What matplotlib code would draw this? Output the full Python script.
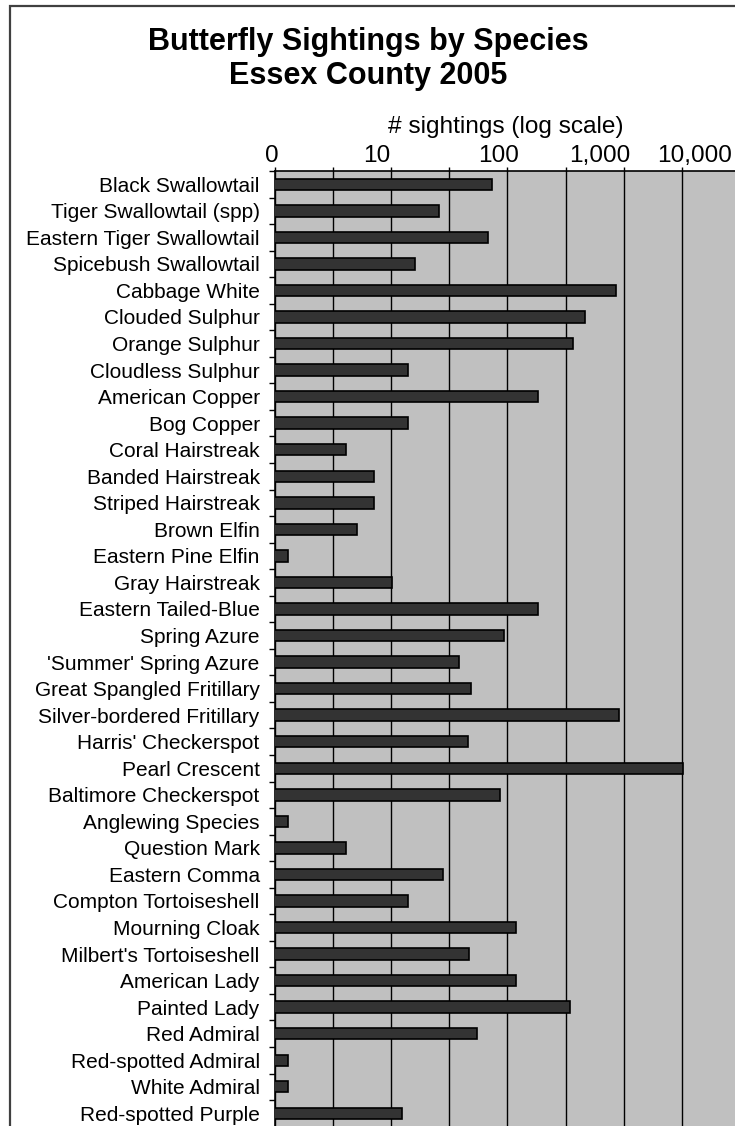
import numpy as np
import matplotlib
matplotlib.use("Agg")
import matplotlib.pyplot as plt
from matplotlib.patches import Rectangle

plt.rcParams['font.family'] = ['Liberation Sans', 'DejaVu Sans']

# species, top to bottom
species = [
    "Black Swallowtail", "Tiger Swallowtail (spp)", "Eastern Tiger Swallowtail",
    "Spicebush Swallowtail", "Cabbage White", "Clouded Sulphur", "Orange Sulphur",
    "Cloudless Sulphur", "American Copper", "Bog Copper", "Coral Hairstreak",
    "Banded Hairstreak", "Striped Hairstreak", "Brown Elfin", "Eastern Pine Elfin",
    "Gray Hairstreak", "Eastern Tailed-Blue", "Spring Azure", "'Summer' Spring Azure",
    "Great Spangled Fritillary", "Silver-bordered Fritillary", "Harris' Checkerspot",
    "Pearl Crescent", "Baltimore Checkerspot", "Anglewing Species", "Question Mark",
    "Eastern Comma", "Compton Tortoiseshell", "Mourning Cloak", "Milbert's Tortoiseshell",
    "American Lady", "Painted Lady", "Red Admiral", "Red-spotted Admiral",
    "White Admiral", "Red-spotted Purple",
]
# sightings
sightings = [
    73, 26, 68, 16, 860, 470, 370, 14, 182, 14, 4.1, 7.1,
    7.1, 5.1, 1.3, 10.2, 182, 93, 38.5, 49, 920, 45.5,
    3270, 86, 1.3, 4.1, 28, 14, 118, 47, 118, 344, 55, 1.3,
    1.3, 12.4,
]
tick_text = ["0", "10", "100", "1,000", "10,000"]
tick_frac = [-0.007, 0.219, 0.480, 0.699, 0.902]

W, H = 735, 1126
fig = plt.figure(figsize=(W / 100, H / 100), dpi=100)

# outer chart border (right and bottom are cut off in the original)
fig.patches.append(Rectangle((10 / W, -0.05), 1.2, 1 - 5.5 / H + 0.05,
                             transform=fig.transFigure, fill=False,
                             edgecolor="#404040", linewidth=1.6))

left, top = 275, 171
ax = fig.add_axes([left / W, 1 - 1126.6 / H, 464.8 / W, (1126.6 - top) / H])
ax.set_facecolor("#c0c0c0")

y = np.arange(len(species))
ax.barh(y, sightings, height=0.43, color="#333333", edgecolor="black", linewidth=1.2, zorder=3)

ax.set_xscale("log")
ax.set_xlim(1, 1e4)
ax.set_ylim(len(species) - 0.5, -0.5)

ax.set_xticks(10 ** np.arange(0, 4.01, 0.5))
ax.set_xticks([], minor=True)
ax.xaxis.set_major_formatter(plt.NullFormatter())
ax.xaxis.set_minor_formatter(plt.NullFormatter())
ax.xaxis.tick_top()
ax.tick_params(axis="x", which="major", direction="out", length=3, width=1, color="black")
ax.grid(axis="x", which="major", color="black", linewidth=1, zorder=1)
ax.set_axisbelow(True)

ax.set_yticks(y)
ax.set_yticklabels(species, fontsize=15)
ax.set_yticks(np.arange(-0.5, len(species), 1), minor=True)
ax.tick_params(axis="y", which="major", length=0, pad=11)
ax.tick_params(axis="y", which="minor", direction="out", length=4, width=1, color="black")

for s in ["right", "bottom"]:
    ax.spines[s].set_visible(False)
for s in ["top", "left"]:
    ax.spines[s].set_color("black")
    ax.spines[s].set_linewidth(1.2)

for t, f in zip(tick_text, tick_frac):
    ax.text(f, 1 + 4 / 955.6, t, transform=ax.transAxes, ha="center", va="bottom", fontsize=17.6)

fig.text(505.5 / W, 1 - 133 / H, "# sightings (log scale)", ha="center", va="baseline", fontsize=17.6)
fig.text(368 / W, 1 - 42 / H, "Butterfly Sightings by Species", ha="center", va="center",
         fontsize=22, fontweight="bold")
fig.text(368 / W, 1 - 76 / H, "Essex County 2005", ha="center", va="center",
         fontsize=22, fontweight="bold")

fig.savefig("out.png", dpi=100)
